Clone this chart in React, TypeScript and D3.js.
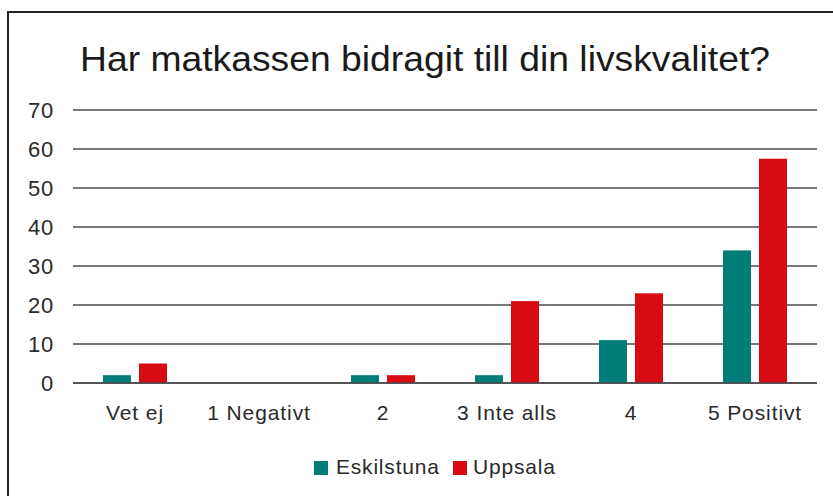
import React from 'react';
import * as d3 from 'd3';

const categories = ['Vet ej', '1 Negativt', '2', '3 Inte alls', '4', '5 Positivt'];
const seriesNames = ['Eskilstuna', 'Uppsala'];
const eskilstuna = [2, 0, 2, 2, 11, 34];
const uppsala = [5, 0, 2, 21, 23, 57.5];
const yTicks = [0, 10, 20, 30, 40, 50, 60, 70];
const colors = ['#007d78', '#d80b13'];

const W = 833;
const H = 496;

const App: React.FC = () => {
  const values = [eskilstuna, uppsala];

  const x0 = d3.scaleBand<string>().domain(categories).range([73, 817]).paddingInner(0).paddingOuter(0);
  const groupW = 64;
  const x1 = d3.scaleBand<string>().domain(seriesNames).range([0, groupW]).paddingInner(0.222);
  const y = d3.scaleLinear().domain([0, 70]).range([383, 110]);

  const labelFont = '"Liberation Sans", Arial, sans-serif';

  return (
    <svg width={W} height={H} style={{ position: 'absolute', left: 0, top: 0, background: '#fff' }}>
      <rect x={8} y={12} width={900} height={600} fill="#fff" stroke="#222" strokeWidth={2} />

      <text
        x={425}
        y={71}
        textAnchor="middle"
        fontFamily='"Liberation Sans Narrow", "Arial Narrow", sans-serif'
        fontSize={35}
        fill="#1a1a1a"
        textLength={690}
        lengthAdjust="spacingAndGlyphs"
      >
        Har matkassen bidragit till din livskvalitet?
      </text>

      {yTicks.map((t) => (
        <g key={t}>
          <line x1={73} x2={817} y1={y(t)} y2={y(t)} stroke="#4a4a4a" strokeWidth={1.4} />
          <text
            x={54}
            y={y(t)}
            dy="0.35em"
            textAnchor="end"
            fontFamily={labelFont}
            fontSize={22}
            letterSpacing={0.8}
            fill="#2a2a2a"
          >
            {t}
          </text>
        </g>
      ))}

      {categories.map((c, i) => {
        const cx = (x0(c) as number) + x0.bandwidth() / 2;
        const gx = cx - groupW / 2;
        return (
          <g key={c}>
            {seriesNames.map((s, j) => {
              const v = values[j][i];
              if (!v) return null;
              return (
                <rect
                  key={s}
                  x={gx + (x1(s) as number)}
                  y={y(v)}
                  width={x1.bandwidth()}
                  height={y(0) - y(v)}
                  fill={colors[j]}
                />
              );
            })}
            <text
              x={cx}
              y={420}
              textAnchor="middle"
              fontFamily={labelFont}
              fontSize={21}
              letterSpacing={0.9}
              fill="#2a2a2a"
            >
              {c}
            </text>
          </g>
        );
      })}

      <line x1={73} x2={817} y1={y(0)} y2={y(0)} stroke="#4a4a4a" strokeWidth={1.4} />

      <g>
        <rect x={314} y={461} width={14} height={14} fill={colors[0]} />
        <text x={336} y={474} fontFamily={labelFont} fontSize={21} letterSpacing={0.8} fill="#2a2a2a">
          {seriesNames[0]}
        </text>
        <rect x={453} y={461} width={14} height={14} fill={colors[1]} />
        <text x={473} y={474} fontFamily={labelFont} fontSize={21} letterSpacing={0.8} fill="#2a2a2a">
          {seriesNames[1]}
        </text>
      </g>
    </svg>
  );
};

export default App;
